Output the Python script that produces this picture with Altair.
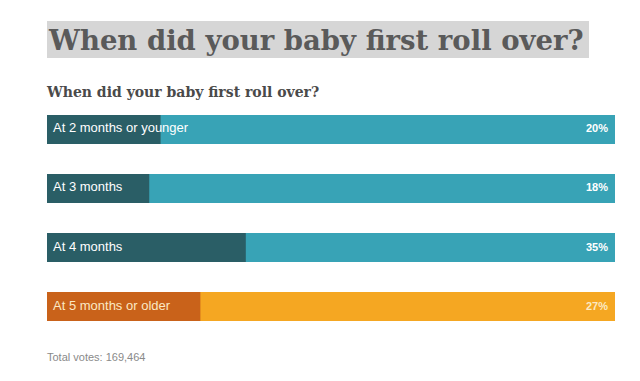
import altair as alt
import pandas as pd

categories = ["At 2 months or younger", "At 3 months", "At 4 months", "At 5 months or older"]
percents = [20, 18, 35, 27]
groups = ["teal", "teal", "teal", "orange"]
title_text = "When did your baby first roll over?"
subtitle_text = "When did your baby first roll over?"
total_text = "Total votes: 169,464"

df = pd.DataFrame({
    "cat": categories,
    "pct": percents,
    "grp": groups,
    "full": [100] * len(categories),
    "zero": [0] * len(categories),
})
df["label"] = df["pct"].astype(str) + "%"

TEAL_L, TEAL_D = "#38a3b6", "#2a5e66"
ORG_L, ORG_D = "#f5a722", "#c9621a"

is_orange = alt.datum.grp == "orange"

x = alt.X("zero:Q", scale=alt.Scale(domain=[0, 100], nice=False, zero=True), axis=None)
y = alt.Y("cat:N", sort=categories, axis=None,
          scale=alt.Scale(paddingInner=0.51, paddingOuter=0))

base = alt.Chart(df)

bg = base.mark_bar(cornerRadius=0).encode(
    x=x, x2="full:Q", y=y,
    color=alt.condition(is_orange, alt.value(ORG_L), alt.value(TEAL_L)),
)
fg = base.mark_bar().encode(
    x=x, x2="pct:Q", y=y,
    color=alt.condition(is_orange, alt.value(ORG_D), alt.value(TEAL_D)),
)
cat_text = base.mark_text(align="left", baseline="middle", dx=6, dy=-1,
                          font="Liberation Sans", fontSize=13, fontWeight=500).encode(
    x=alt.value(0), y=y, text="cat:N",
    color=alt.condition(is_orange, alt.value("#fbe9c4"), alt.value("#ffffff")),
)
pct_text = base.mark_text(align="right", baseline="middle", dx=-7,
                          font="Liberation Sans", fontSize=11, fontWeight="bold").encode(
    x=alt.value(568), y=y, text="label:N",
    color=alt.condition(is_orange, alt.value("#fbe9c4"), alt.value("#ffffff")),
)

deco = pd.DataFrame({"t": [title_text]})
title_bg = alt.Chart(deco).mark_rect(color="#d6d6d6").encode(
    x=alt.value(0), x2=alt.value(542), y=alt.value(-94), y2=alt.value(-57)
)
title = alt.Chart(deco).mark_text(align="left", baseline="alphabetic",
                                  font="DejaVu Serif", fontWeight="bold",
                                  fontSize=27.5, color="#5a5a5a").encode(
    x=alt.value(2), y=alt.value(-65), text="t:N"
)
sub = alt.Chart(pd.DataFrame({"t": [subtitle_text]})).mark_text(
    align="left", baseline="alphabetic", font="DejaVu Serif", fontWeight="bold",
    fontSize=14, color="#4a4a4a").encode(
    x=alt.value(0), y=alt.value(-18), text="t:N"
)
total = alt.Chart(pd.DataFrame({"t": [total_text]})).mark_text(
    align="left", baseline="alphabetic", font="Liberation Sans",
    fontSize=11, color="#8a8a8a").encode(
    x=alt.value(0), y=alt.value(246), text="t:N"
)

chart = alt.layer(title_bg, title, sub, bg, fg, cat_text, pct_text, total).properties(
    width=568, height=206,
    autosize=alt.AutoSizeParams(type="none"),
    padding={"left": 39, "top": 107, "right": 17, "bottom": 52},
    background="#ffffff",
).configure_view(stroke=None)

chart.save("out.html", embed_options={"renderer": "svg", "actions": False})
